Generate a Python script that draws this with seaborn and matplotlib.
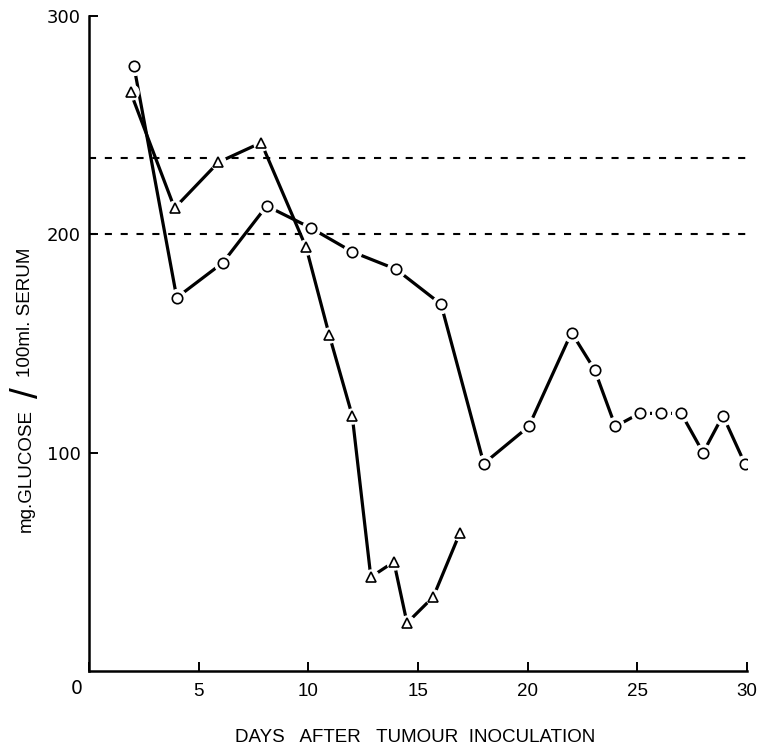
"""
Serum glucose after tumour inoculation - two groups, normal range dashed.
"""
import matplotlib
matplotlib.use("Agg")
import matplotlib.pyplot as plt
import seaborn as sns
import pandas as pd

# circles
circle_days = [2.05, 4.0, 6.1, 8.1, 10.1, 12.0, 14.0, 16.05, 18.0, 20.05,
               22.0, 23.05, 24.0, 25.1, 26.1, 27.0, 28.0, 28.9, 29.9]
circle_glucose = [277, 171, 187, 213, 203, 192, 184, 168, 95, 112,
                  155, 138, 112, 118, 118, 118, 100, 117, 95]

# triangles
triangle_days = [1.9, 3.9, 5.9, 7.85, 9.9, 10.95, 12.0, 12.85, 13.9, 14.5, 15.7, 16.9]
triangle_glucose = [265, 212, 233, 242, 194, 154, 117, 43, 50, 22, 34, 63]

normal_range = [200, 235]
x_ticks = [0, 5, 10, 15, 20, 25, 30]
x_labels = ['', '5', '10', '15', '20', '25', '30']
y_ticks = [100, 200, 300]
y_labels = ['100', '200', '300']

circles = pd.DataFrame({'day': circle_days, 'glucose': circle_glucose})
triangles = pd.DataFrame({'day': triangle_days, 'glucose': triangle_glucose})

sns.set_style('white', {'axes.edgecolor': 'black', 'text.color': 'black',
                        'xtick.color': 'black', 'ytick.color': 'black',
                        'xtick.bottom': True, 'ytick.left': True})
plt.rcParams['font.family'] = ['Liberation Sans', 'DejaVu Sans']

fig = plt.figure(figsize=(7.59, 7.47), dpi=100)
ax = fig.add_axes([89 / 759, 76 / 747, 658 / 759, 655 / 747])

# dashed normal range
for level in normal_range:
    ax.axhline(level, color='black', lw=1.5, dashes=(3.4, 4.2), zorder=1)

# lines
for df in (circles, triangles):
    sns.lineplot(data=df, x='day', y='glucose', ax=ax, color='black',
                 lw=2.3, sort=False, estimator=None, zorder=2)

# white halos give the little gaps round each marker
sns.lineplot(data=circles, x='day', y='glucose', ax=ax, linestyle='', marker='o',
             markersize=13, mfc='white', mec='white', estimator=None, zorder=3)
sns.lineplot(data=triangles, x='day', y='glucose', ax=ax, linestyle='', marker='o',
             markersize=11, mfc='white', mec='white', estimator=None, zorder=3)

# open markers
sns.lineplot(data=circles, x='day', y='glucose', ax=ax, linestyle='', marker='o',
             markersize=7.5, mfc='white', mec='black', mew=1.2, estimator=None, zorder=4)
sns.lineplot(data=triangles, x='day', y='glucose', ax=ax, linestyle='', marker='^',
             markersize=6.5, mfc='white', mec='black', mew=1.2, estimator=None, zorder=4)

ax.set_xlim(0, 30)
ax.set_ylim(0, 300)
ax.set_xticks(x_ticks)
ax.set_xticklabels(x_labels, fontsize=13.5)
ax.set_yticks(y_ticks)
ax.set_yticklabels(y_labels, fontsize=13, family='DejaVu Sans')
ax.tick_params(axis='both', direction='in', length=6.5, width=1.4, color='black',
               labelcolor='black', bottom=True, left=True)
ax.tick_params(axis='x', pad=9)
ax.tick_params(axis='y', pad=6)
for side in ('top', 'right'):
    ax.spines[side].set_visible(False)
for side in ('left', 'bottom'):
    ax.spines[side].set_linewidth(1.8)
    ax.spines[side].set_color('black')

ax.set_xlabel('')
ax.set_ylabel('')

# the lone origin label sits left of the axis
ax.annotate('0', xy=(0, 0), xycoords='axes fraction', xytext=(-12, -18),
            textcoords='offset pixels', ha='center', va='center', fontsize=13.5,
            family='DejaVu Sans', color='black')

fig.text(415 / 759, 1 - 737 / 747, 'DAYS   AFTER   TUMOUR  INOCULATION',
         ha='center', va='center', fontsize=13.5, color='black')

# y label with the tall slash, pieces butted together
ylab_x = 26 / 759
fig.text(ylab_x, 1 - 409 / 747, 'mg.GLUCOSE', rotation=90, rotation_mode='anchor',
         ha='right', va='center', fontsize=13.5, color='black')
fig.text(ylab_x + 2 / 759, 1 - 393 / 747, '/', rotation=90, rotation_mode='anchor',
         ha='center', va='center', fontsize=28, color='black')
fig.text(ylab_x, 1 - 377 / 747, '100ml. SERUM', rotation=90, rotation_mode='anchor',
         ha='left', va='center', fontsize=13.5, color='black')

fig.savefig('out.png', dpi=100)
